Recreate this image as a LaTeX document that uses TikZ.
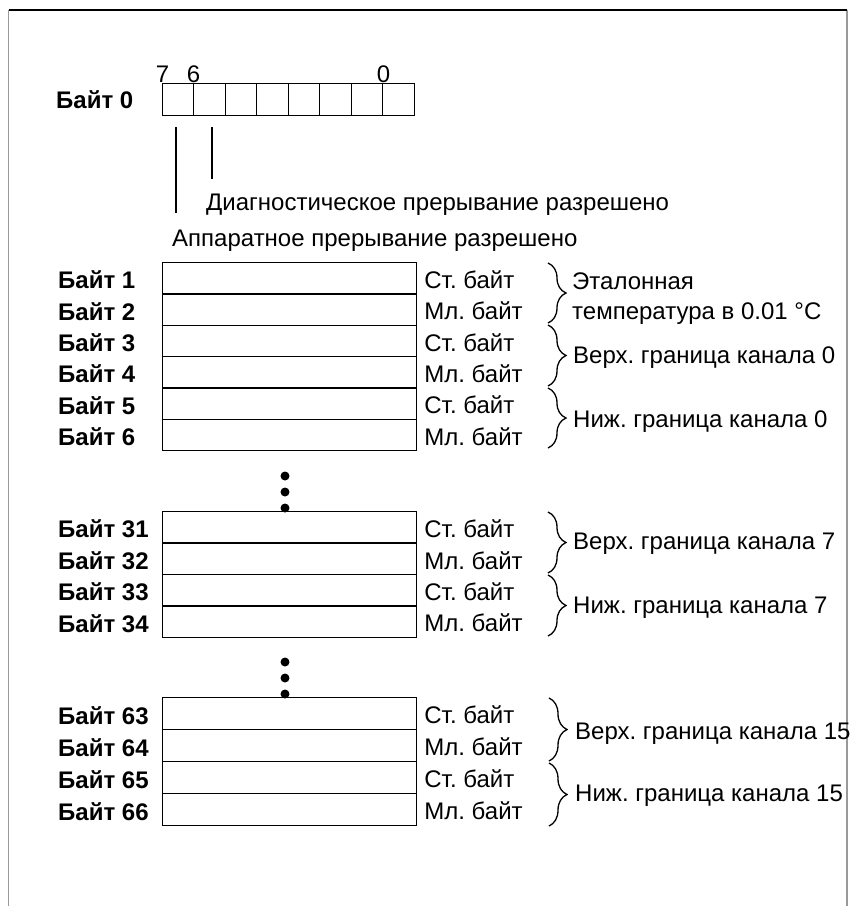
\documentclass[tikz,border=0pt]{standalone}
\usepackage{fontspec}
\setmainfont{Liberation Sans}
\usetikzlibrary{decorations.pathreplacing}
\AtBeginDocument{\frenchspacing}
\begin{document}
\begin{tikzpicture}[x=1pt,y=-1pt,
  txt/.style={font=\fontsize{24}{28}\selectfont, inner sep=0pt},
  lbl/.style={txt, font=\fontsize{24}{28}\selectfont\bfseries, anchor=west},
  bitcell/.style={draw, line width=1.2pt, minimum width=31.5pt, minimum height=32.5pt, inner sep=0pt, anchor=north west},
  rowbox/.style={draw, line width=1.2pt, minimum width=254pt, minimum height=31.5pt, inner sep=0pt, anchor=north west},
  side/.style={txt, anchor=west},
  brc/.style={decorate, decoration={brace, amplitude=18pt}, line width=1.3pt},
  dotc/.style={circle, fill=black, inner sep=0pt, minimum size=9pt}
]
\useasboundingbox (0,0) rectangle (851,906);
% frame
\draw[gray!80, line width=1.5pt] (8.5,906) -- (8.5,10);
\draw[gray!80, line width=1.5pt] (847,10) -- (847,906);
\draw[black, line width=1.5pt] (8.5,10) -- (847,10);

% Byte 0
\node[lbl] (l0) at (56,100) {Байт 0};
\foreach \i in {0,...,7} {
  \node[bitcell] (c\i) at ({161.5+31.5*\i},82.5) {};
}
\node[txt] (d7) at (162.5,74) {7};
\node[txt] (d6) at (193.5,74) {6};
\node[txt] (d0) at (383.5,74) {0};
\coordinate (a7) at (176,127);
\coordinate (e7) at (176,213);
\coordinate (a6) at (212,127);
\coordinate (e6) at (212,179);
\draw[line width=1.5pt] (a7) -- (e7);
\draw[line width=1.5pt] (a6) -- (e6);
\node[side] (diag) at (206,205) {Диагностическое прерывание разрешено};
\node[side] (hw) at (172,241) {Аппаратное прерывание разрешено};

% Group 1
\foreach \n [count=\k from 0] in {1,...,6} {
  \node[rowbox] (r\n) at (162,{262+31.3*\k}) {};
  \node[lbl] (l\n) at (58,{262+31.3*\k+18}) {Байт \n};
}
\foreach \n/\t in {1/Ст. байт,2/Мл. байт,3/Ст. байт,4/Мл. байт,5/Ст. байт,6/Мл. байт} {
  \node[side] (s\n) at ([xshift=7pt,yshift=-1.5pt]r\n.east) {\t};
}
\draw[brc] (548,263) -- (548,323);
\draw[brc] (548,325) -- (548,386);
\draw[brc] (548,388) -- (548,448);
\node[side, align=left, font=\fontsize{24}{30}\selectfont] (t1) at (572,299) {Эталонная\\температура в 0.01 °C};
\node[side] (t2) at (573,358) {Верх. граница канала 0};
\node[side] (t3) at (573,422) {Ниж. граница канала 0};

% dots 1
\node[dotc] (p1) at (285,476) {};
\node[dotc] (p2) at (285,492) {};
\node[dotc] (p3) at (285,508) {};

% Group 2
\foreach \n [count=\k from 0] in {31,...,34} {
  \node[rowbox] (r\n) at (162,{511+31.4*\k}) {};
  \node[lbl] (l\n) at (58,{511+31.4*\k+18}) {Байт \n};
}
\foreach \n/\t in {31/Ст. байт,32/Мл. байт,33/Ст. байт,34/Мл. байт} {
  \node[side] (s\n) at ([xshift=7pt,yshift=-1.5pt]r\n.east) {\t};
}
\draw[brc] (548,512) -- (548,573);
\draw[brc] (548,575) -- (548,636);
\node[side] (t4) at (573,544) {Верх. граница канала 7};
\node[side] (t5) at (573,608) {Ниж. граница канала 7};

% dots 2
\node[dotc] (q1) at (285,662) {};
\node[dotc] (q2) at (285,678) {};
\node[dotc] (q3) at (285,694) {};

% Group 3
\foreach \n [count=\k from 0] in {63,...,66} {
  \node[rowbox] (r\n) at (162,{697+32*\k}) {};
  \node[lbl] (l\n) at (58,{697+32*\k+19}) {Байт \n};
}
\foreach \n/\t in {63/Ст. байт,64/Мл. байт,65/Ст. байт,66/Мл. байт} {
  \node[side] (s\n) at ([xshift=7pt,yshift=-1.5pt]r\n.east) {\t};
}
\draw[brc] (549,698) -- (549,761);
\draw[brc] (549,763) -- (549,826);
\node[side] (t6) at (575,734) {Верх. граница канала 15};
\node[side] (t7) at (575,796) {Ниж. граница канала 15};
\end{tikzpicture}
\end{document}
